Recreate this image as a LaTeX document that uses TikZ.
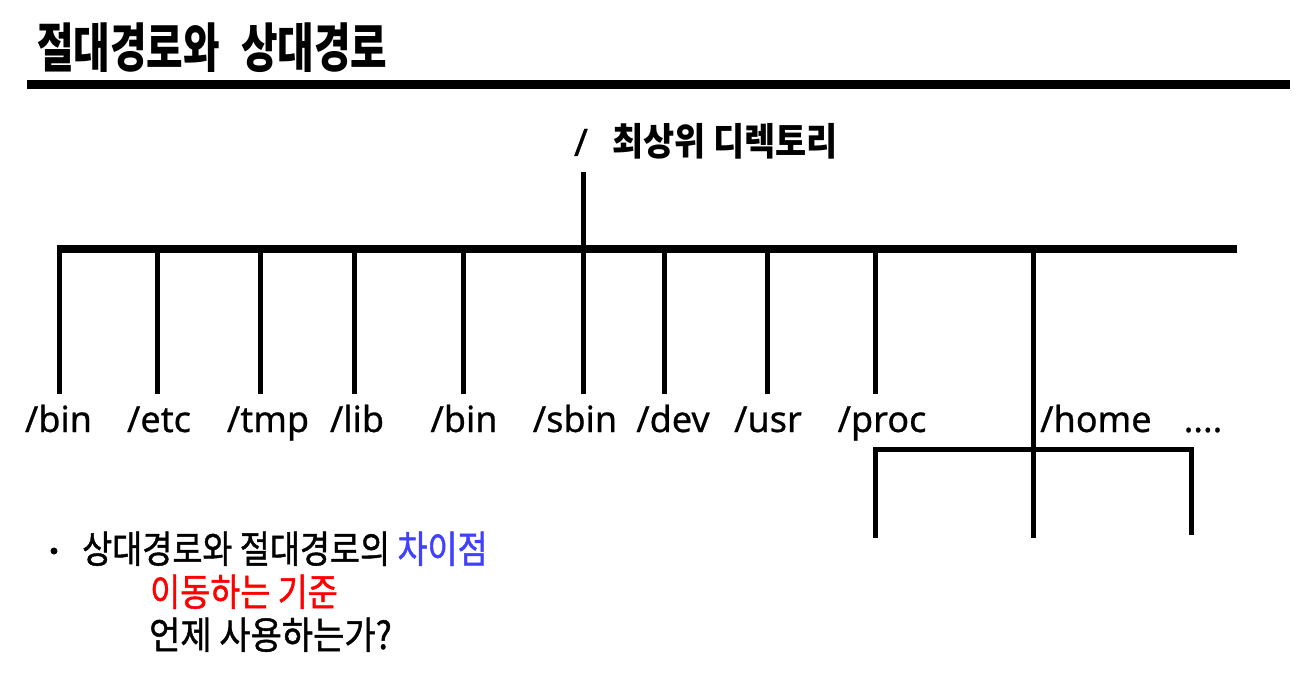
\documentclass[tikz,border=0pt]{standalone}
\usepackage{fontspec}
\setmainfont{Noto Sans}
\newfontfamily\kr{Noto Sans CJK KR}
\newfontfamily\krm[FakeBold=1.2]{Noto Sans CJK KR}
\newfontfamily\lat[FakeBold=0.6]{Noto Sans}
\begin{document}
\begin{tikzpicture}[x=1pt,y=-1pt]
\tikzset{
  lbl/.style={font=\lat\fontsize{36}{40}\selectfont, inner sep=0pt, anchor=base},
  branch/.style={line width=5pt, line cap=butt},
  bar/.style={line width=8pt, line cap=butt},
  rule/.style={line width=9pt, line cap=butt},
  note/.style={font=\krm\fontsize{38}{42}\selectfont, inner sep=0pt, anchor=base west, xscale=0.86},
}
\useasboundingbox (0,0) rectangle (1301,674);
\fill[white] (0,0) rectangle (1301,674);

% title
\node[font=\kr\bfseries\fontsize{53}{58}\selectfont, inner sep=0pt, anchor=base west, xscale=0.75] (title) at (37,68) {절대경로와\hspace{0.3em} 상대경로};
\coordinate (ruleL) at (27,84.5);
\coordinate (ruleR) at (1290,84.5);
\draw[rule] (ruleL) -- (ruleR);

% root
\node[font=\lat\fontsize{38}{42}\selectfont, inner sep=0pt, anchor=base] (root) at (581,156) {/};
\node[font=\kr\bfseries\fontsize{38}{42}\selectfont, inner sep=0pt, anchor=base west, xscale=0.89] (rootlbl) at (612,156) {최상위 디렉토리};
\coordinate (rootdown) at (583,172);
\coordinate (j0) at (583,249);
\draw[branch] (rootdown) -- (j0);

% main bar
\coordinate (barL) at (56.5,249);
\coordinate (barR) at (1237,249);
\draw[bar] (barL) -- (barR);

% branches and labels
\foreach \n/\x/\lx/\t in {a/59/58.5/{/bin}, b/157/159/{/etc}, c/260/268/{/tmp}, d/354/357/{/lib}, e/463/464/{/bin}, f/583/575/{/sbin}, g/664/673/{/dev}, h/767/768/{/usr}, i/875/882/{/proc}}{
  \coordinate (\n top) at (\x,249);
  \coordinate (\n bot) at (\x,394);
  \draw[branch] (\n top) -- (\n bot);
  \node[lbl] (\n lbl) at (\lx,432) {\t};
}
\node[lbl, anchor=base west] (home) at (1040,432) {/home};
\node[lbl] (more) at (1203,432) {....};

% home branch
\coordinate (hometop) at (1033,249);
\coordinate (homebot) at (1033,538);
\draw[branch] (hometop) -- (homebot);
\coordinate (subL) at (875,449);
\coordinate (subR) at (1191,449);
\coordinate (subLb) at (875,538);
\coordinate (subRb) at (1191,535);
\draw[branch, line join=miter] (subLb) -- (subL) -- (subR) -- (subRb);

% notes
\node[fill=black, circle, inner sep=0pt, minimum size=7pt] (bullet) at (54,551) {};
\node[note] (n1) at (82,563) {상대경로와 절대경로의 \textcolor[RGB]{64,64,255}{차이점}};
\node[note, text=red] (n2) at (150,606) {이동하는 기준};
\node[note, xscale=1.04] (n3) at (149,649) {언제 사용하는가?};
\end{tikzpicture}
\end{document}
